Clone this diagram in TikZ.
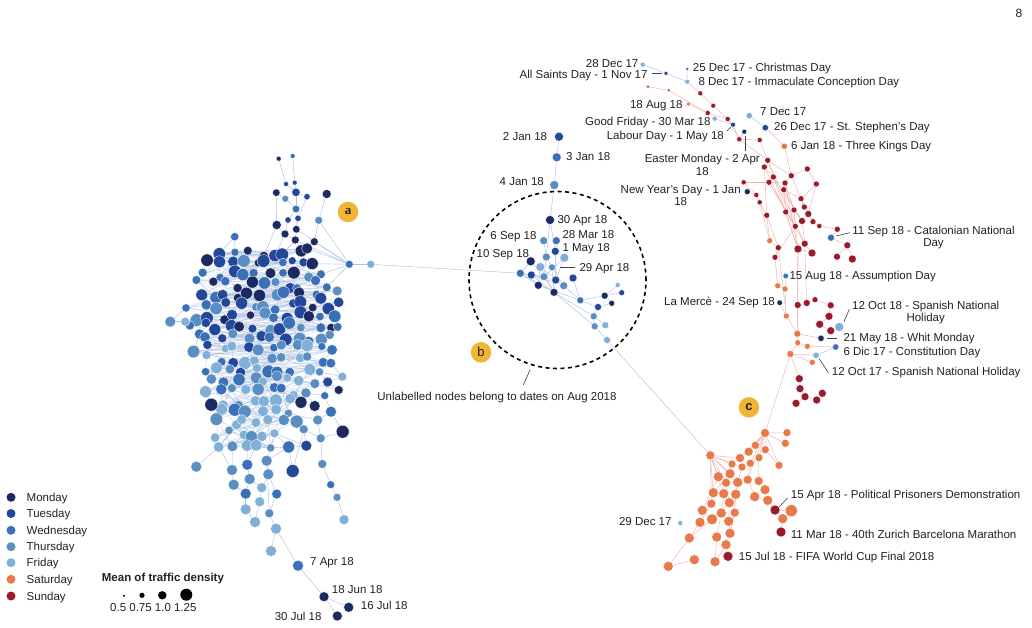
\documentclass[tikz,border=0pt]{standalone}
\usepackage{fontspec}
\setmainfont{Liberation Sans}
\newfontfamily\serifa{Liberation Serif}
\pgfdeclarelayer{bg}
\pgfdeclarelayer{paper}
\pgfsetlayers{paper,bg,main}
\definecolor{day0}{HTML}{1C2A63}
\definecolor{day1}{HTML}{23489A}
\definecolor{day2}{HTML}{3A71B6}
\definecolor{day3}{HTML}{5A8DC2}
\definecolor{day4}{HTML}{80B0D8}
\definecolor{day5}{HTML}{E7794B}
\definecolor{day6}{HTML}{9B1B2E}
\definecolor{edgeb}{HTML}{AFC0E0}
\definecolor{edger}{HTML}{EFB2AC}
\definecolor{txt}{HTML}{222222}
\definecolor{badgec}{HTML}{F0B533}
\newcount\blobcount
\newcommand\labfont{\fontsize{11.5}{12.8}\selectfont}
\begin{document}
\begin{tikzpicture}[x=1pt,y=-1pt,
  dot/.style={circle,inner sep=0pt,draw=white,line width=0.35pt},
  bedge/.style={draw=edgeb,line width=0.45pt},
  redge/.style={draw=edger,line width=0.45pt},
  medge/.style={draw=edgeb!50!edger,line width=0.45pt},
  lab/.style={font=\labfont,inner sep=0pt,text height=8.2pt,text depth=0pt,text=txt},
  labc/.style={font=\labfont,inner sep=0pt,align=center,text=txt},
  lead/.style={draw=txt!85,line width=0.6pt},
  badge/.style={circle,fill=badgec,inner sep=0pt,minimum size=20.5pt,text=txt,font=\fontsize{13}{13}\selectfont}]
\begin{pgfonlayer}{paper}
\fill[white] (0,0) rectangle (1032,628);
\end{pgfonlayer}
\useasboundingbox (0,0) rectangle (1032,628);
\pgfmathsetseed{12}
% ---------- left dense blob ----------
\global\blobcount=0
\foreach \xa/\xb [count=\k] in {216/322,204/324,200/330,200/336,194/340,190/342,192/346,192/346,190/344,196/340,202/336,206/330,208/318,210/316,220/292,222/296,214/300,216/290,212/272}{
  \pgfmathsetmacro\yy{252+10.7*(\k-1)}
  \pgfmathsetmacro\off{mod(\k,2)*6.25}
  \pgfmathtruncatemacro\nn{floor((\xb-\xa-\off)/12.5)}
  \foreach \j in {0,...,\nn}{
    \global\advance\blobcount by 1
    \expandafter\xdef\csname bn\the\blobcount\endcsname{r\k c\j}
    \pgfmathsetmacro\px{\xa+\off+12.5*\j+4.5*rand}
    \pgfmathsetmacro\py{\yy+4.2*rand}
    \pgfmathsetmacro\tt{(\k-1)/18}
    \pgfmathtruncatemacro\ci{max(0,min(4,floor(4.0*\tt*sqrt(\tt)+3.5*rnd-0.4)))}
    \pgfmathsetmacro\rr{4.0+2.5*rnd}
    \node[dot,fill=day\ci,minimum size=2*\rr] (r\k c\j) at (\px,\py) {};
  }
}
\pgfmathtruncatemacro\NB{\blobcount}
% ---------- manual left nodes ----------
\foreach \nm/\px/\py/\cc/\rr in {
 sp1/278.7/158.7/0/2.5, sp2/292.7/156/2/2.5, sp3/286/184/1/2.5, sp4/294.7/182.7/1/2.5,
 sp5/276.3/192.7/0/3.8, sp6/296/192.3/1/4.2, sp7/307/196.7/1/3.2, sp8/326.7/194/0/4.5,
 sp9/285.3/198.7/3/3.5, sp10/296/209/2/3.8, sp11/288/220/1/3.2, sp12/298/218.3/1/3.2,
 sp13/318.7/220.3/3/4, sp14/276.7/225/0/4.6, sp15/296.3/229.3/0/3.8, sp16/285/234/0/4,
 sp17/295.3/240/0/4, sp18/314.3/241.7/0/4, sp19/234.7/236.7/2/4.2,
 E1/349.3/264.3/2/4, E2/370.7/264.3/4/4, Lo1/170.3/321.7/3/5.5, Lo2/185.3/321.7/4/4.5,
 L1/342.3/376.7/4/4.5, L2/338.7/390/0/4.5, L3/327.7/382/1/5, L4/324.7/395.7/2/4,
 L5/301/402.3/0/6, L6/314.7/406/0/5.5, L7/331/411.7/2/5.5, L8/317.7/420/3/5,
 L9/303.7/429.3/3/4.5, L10/320.7/438.3/3/4.5, L11/306.3/445.7/1/5.5, L12/288.7/447/2/6,
 L13/342.7/431.7/0/6.5, L14/292.7/471/1/6.5, L15/322.3/464/3/4.5, L16/330.7/484.7/2/4,
 L17/337/497.3/3/4, L18/344/519.7/4/5, L19/196.3/466.7/3/5.5, L20/211.3/404.7/0/6.5,
 T1/232/470/3/5.5, T2/247.3/464.7/2/5.5, T3/266.7/460.7/3/5.5, T4/268.3/474.3/3/5.5,
 T5/249.7/479/3/5.5, T6/233.7/484.7/3/5.5, T7/261.7/487.7/4/5, T8/245.7/493.7/2/5.5,
 T9/276.7/494/2/5, T10/259.7/501.7/4/5, T11/245.7/509.3/4/5.5, T12/269.3/513.3/3/4.5,
 T13/255/522/4/5.5, T14/276/528.7/4/5.5, T15/271/551/4/5.5, T16/298/565.7/2/5.5,
 T17/324/596.7/0/5, T18/348.7/607.3/0/5, T19/337.3/616/0/5}
 {\node[dot,fill=day\cc,minimum size=2*\rr] (\nm) at (\px,\py) {};}
% ---------- middle cluster ----------
\foreach \nm/\px/\py/\cc/\rr in {
 jan2/559/136.7/1/4.5, jan3/556.7/157.3/2/4.5, jan4/554.3/185/3/4.5, apr30/550/220/0/4.5,
 sep6/543.7/240.7/3/4, mar28/556.3/240.7/2/4, may1/555.3/251.3/1/4, sep10/530.7/261.3/0/4.5,
 C1/564.3/257.7/4/4.5, C2/546.3/257/3/4, C3/540.3/267/4/4.5, C4/520.3/273.3/2/4,
 C5/531.3/275/1/4, C6/544/276.7/3/4, C7/555.7/280/1/4, C8/573/278/1/4, C9/538.3/285.3/0/4,
 C10/563.7/285.7/3/4, C11/554/292.3/0/4, C12/580.3/300.3/2/3.5, C13/604.7/295.7/0/3.5,
 C14/617.7/285/4/2.5, C15/621.7/292.7/1/3, C16/598/307/1/3.5, C17/611.7/303.3/0/3,
 C18/593.7/316.3/3/3.5, C19/594.7/326.3/3/3.5, C20/605.3/325.3/4/3.5, C21/607/340/4/3.5,
 apr29/552/267.3/3/3.5}
 {\node[dot,fill=day\cc,minimum size=2*\rr] (\nm) at (\px,\py) {};}
% ---------- right (holiday) cluster ----------
\foreach \nm/\px/\py/\cc/\rr in {
 R1/648/86.7/6/1.6, R2/668.7/90.3/6/1.6, R3/700.3/93.3/6/2.5, R4/713.3/105.7/6/2.5,
 R5/707.7/113/6/2.6, R6/727.7/119/6/2.6, R7/739.3/139.3/6/2.6, R8/759.7/140/6/2.6,
 R9/767.7/160.3/6/3, R10/764.3/167/6/3, R11/773.3/177/6/3, R12/791.3/175.7/6/3,
 R13/807.3/169/6/3, R14/816.3/184/6/3, R15/769/182.3/6/3, R16/785/183/6/3,
 R17/783.7/189.7/6/3, R18/743.7/182.3/6/2.6, R19/756.3/195/6/2.6, R20/759.7/202.3/6/2.6,
 R21/801/198.7/6/3, R22/804.3/207/6/3, R23/794/210/6/3, R24/785.7/212/6/3,
 R25/808.3/214/6/3.5, R26/766.7/215.3/6/3, R27/802/221/6/3.5, R28/813/221.7/6/3,
 R29/819.3/226/6/2.6, R30/795.3/226.3/6/3, R31/837.3/229.3/6/3, R32/804.7/243.7/6/3.5,
 R33/798/249/6/4, R34/812/253/6/4, R35/847.3/245.3/6/3.5, R36/837/256.7/6/3.5,
 R37/852.3/259/6/4, R38/778.3/247.7/6/3, R39/775/257.3/6/3, R40/797.7/305/6/3.5,
 R41/806.7/303/6/3.5, R42/815/299.7/6/3, R43/830.7/305.3/6/3.5, R44/829/316.3/6/4,
 R45/819.7/324.3/6/4, R46/830.7/330.7/6/4, R47/799.3/378.7/6/4, R48/800/388.7/6/4,
 R49/822.3/393.3/6/4, R50/805/396.7/6/4, R51/816.7/400/6/4, R52/796/403.3/6/4,
 O1/769.7/240.7/5/3, O2/777.7/285.7/5/3, O3/785/289/5/3, O4/786.3/316/5/3,
 O5/797.3/333.7/5/3.5, O6/797.7/342.7/5/3, O7/807.3/346.3/5/3, O8/790.3/354/5/3.5,
 O9/812.3/362.3/5/3,
 dec28/642.7/64.7/4/2.5, allsaints/666/73.3/1/2, dec25/687/69/0/1.5, dec8/687.3/81.7/4/2.5,
 aug18/688.3/104/5/2, dec7/749.3/115.7/4/3.2, dec26/765.3/127.7/1/3.2, jan6/784.3/146.3/5/3.2,
 goodfri/714.7/118.7/4/2.5, labour/733/124.7/1/2.5, easter/744.3/131.7/0/2.5,
 newyear/747.3/191.7/0/3, cat/831/237.7/2/3.5, aug15/785.7/276/2/2.8, merce/779.7/302.7/0/2.8,
 oct12b/839.3/327/4/4.5, may21/821/338.3/0/3.2, dic6/835.7/347/2/3.2, oct17/816/355.3/4/3.2}
 {\node[dot,fill=day\cc,minimum size=2*\rr] (\nm) at (\px,\py) {};}
% ---------- bottom (Saturday) cluster ----------
\foreach \nm/\px/\py/\cc/\rr in {
 P1/765/433/5/4.5, P2/787/432.7/5/4, P3/785.3/443.3/5/4, P4/755.3/445.3/5/4,
 P5/748.7/451.7/5/4.5, P6/765.3/449.7/5/4, P7/710.3/455.3/5/4.5, P8/740/458/5/4.5,
 P9/759/457.7/5/4, P10/732/464/5/4, P11/750.3/463.3/5/4, P12/742/467/5/4,
 P13/779/465.3/5/4, P14/730/473.7/5/5, P15/718.3/476.7/5/5, P16/726/482.7/5/4.5,
 P17/737.7/482.3/5/5, P18/747.7/479.7/5/4.5, P19/758.7/481/5/4.5, P20/713.3/492.7/5/5,
 P21/723.7/493.7/5/5, P22/735.7/494.3/5/5, P23/765/489.7/5/5, P24/754.7/496.7/5/5,
 P25/767.7/500.3/5/5, P26/791.3/510.7/5/6, P27/711.3/503.7/5/4.5, P28/729.3/502.7/5/5,
 P29/702.3/510.3/5/5, P30/721.3/513/5/5, P31/734.7/512.7/5/4.5, P32/782.7/518.7/5/5,
 P33/700/522.3/5/5, P34/712/519.3/5/5.5, P35/728.7/521.3/5/5, P36/730/533.3/5/5,
 P37/716.7/537/5/5, P38/689.3/538/5/5, P39/726/544.7/5/5, P40/694.3/559.7/5/5,
 P41/715/561.7/5/5, P42/668.3/566.3/5/5,
 pp/775/510/6/5, mm/781/532/6/5, fw/728/556.3/6/5, dec29/680.3/523/4/2.5}
 {\node[dot,fill=day\cc,minimum size=2*\rr] (\nm) at (\px,\py) {};}
% ---------- edges ----------
\begin{pgfonlayer}{bg}
\foreach \i in {1,...,\NB}{
  \foreach \t in {1,...,4}{
    \pgfmathtruncatemacro\jj{max(1,min(\NB,\i+round(20*rand)))}
    \ifnum\jj=\i\relax\else
      \edef\na{\csname bn\i\endcsname}\edef\nbb{\csname bn\jj\endcsname}
      \draw[bedge,opacity=0.6] (\na) -- (\nbb);
    \fi
  }
}
\foreach \ea/\eb in {sp1/sp3, sp2/sp4, sp3/sp6, sp4/sp6, sp5/sp9, sp6/sp10, sp9/sp10,
 sp7/sp12, sp6/sp7, sp8/sp13, sp10/sp15, sp10/sp11, sp11/sp16, sp12/sp15, sp5/sp14,
 sp14/sp16, sp15/sp17, sp16/sp17, sp13/sp18, sp17/E1, sp18/E1, sp15/E1, sp13/E1,
 sp19/r1c0, sp19/r1c1, sp14/r1c3, sp16/r1c4, sp17/r1c5, sp18/r1c6, sp18/r1c7,
 E1/r2c9, E1/r3c9, E1/r4c10, E1/r1c7, E1/E2, E2/C4, Lo1/Lo2, Lo2/r7c0, Lo2/r8c0, Lo1/r6c0,
 L1/r11c10, L1/r12c9, L3/r12c9, L3/r13c8, L2/r13c8, L4/r14c8, L5/r14c7, L6/r14c8,
 L5/r15c5, L9/r17c6, L8/r16c5, L11/r18c5, L12/r19c4, L12/r18c5, L20/r14c0, L20/r15c0,
 L19/r19c0, T1/r19c1, T2/r19c2, T3/r19c4, T2/r19c3, T1/r19c0,
 L1/L3, L2/L3, L3/L4, L4/L7, L5/L6, L6/L8, L7/L8, L8/L10, L9/L10, L9/L11, L10/L13,
 L11/L12, L12/T3, L13/L7, L10/L15, L15/L16, L16/L17, L17/L18, L14/L12, L14/L9,
 T1/T6, T2/T5, T3/T4, T4/T9, T5/T8, T6/T8, T7/T10, T5/T7, T8/T11, T10/T13, T9/T12,
 T12/T14, T11/T13, T14/T15, T14/T16, T16/T17, T17/T18, T17/T19, T4/T7, T3/T12,
 jan2/jan3, jan3/jan4, jan4/apr30, apr30/C2, apr30/may1, sep6/C2, mar28/C7, may1/C7,
 sep10/C4, sep10/C6, C1/C6, C1/C7, C2/C6, C3/C9, C4/C5, C4/C6, C4/C9, C4/C11, C4/C7,
 C5/C10, C6/C11, C7/C11, C3/C10, C9/C12, C10/C12, C8/C12, apr29/C11, C12/C16, C12/C13,
 C13/C14, C13/C15, C13/C17, C16/C17, C16/C18, C18/C19, C18/C20, C19/C21, C11/C18,
 C11/C19, C2/C10, C3/C11, C5/C11,
 dec28/allsaints, allsaints/dec8, dec25/dec8, dec7/dec26, goodfri/labour, oct17/dic6}
 {\draw[bedge] (\ea) -- (\eb);}
\draw[medge] (C21) -- (P7);
\foreach \ea/\eb in {R1/R2, R2/R5, R5/R6, aug18/R5, dec8/R3, R3/R4, R4/R6, R6/R7,
 R6/labour, labour/R7, easter/R7, R7/R8, R7/R9, R8/R9, dec26/jan6, jan6/R12, R9/R10,
 R10/R11, R11/R15, R9/R12, R12/R13, R13/R14, R15/R16, R16/R17, R17/R21, R14/R21,
 R18/R19, R19/R20, R20/R26, newyear/R19, R16/R23, R17/R24, R21/R22, R22/R25, R23/R27,
 R24/R30, R25/R28, R28/R29, R29/R31, R31/cat, cat/R35, R35/R36, R35/R37, R27/R32,
 R30/R33, R32/R34, R33/R34, R26/O1, O1/R38, R38/R39, R39/O2, O2/O3, O3/aug15, O3/O4,
 R33/R40, R40/R41, R41/R42, R42/R43, R43/R44, R44/R45, R45/R46, R46/oct12b, O4/O5,
 R40/O5, O5/may21, O5/O6, O6/O7, O7/dic6, O6/O8, O8/oct17, O8/O9, O8/R47, merce/O4,
 R47/R48, R48/R50, R49/R51, R50/R52, R51/R50, R9/R33, R15/R32, R11/R30, R10/R24,
 R38/O4, R33/O5, O8/P1, R23/R30, R12/R16, R18/R15,
 R9/R32, R11/R27, R15/R30, R10/R26, R17/R27, R16/R33, R12/R22, R14/R25, R21/R28,
 R26/R38, R20/O1, R30/R39, R24/R33, R32/R41,
 P7/P8, P7/P10, P7/P14, P7/P15, P7/P16, P7/P20, P7/P21, P7/P17, P7/P12, P7/P27,
 P1/P3, P1/P4, P1/P5, P1/P6, P1/P9, P1/P11, P1/P8, P1/P13, P1/P18, P1/P2,
 P2/P3, P14/P20, P20/P27, P27/P33, P29/P33, P33/P38, P38/P42, P21/P28, P28/P35,
 P35/P36, P36/P39, P39/fw, P30/P37, P40/P42, P41/P37, P22/P31, P18/P24, P19/P23,
 P23/P25, P25/pp, pp/P26, P32/mm, P24/P25, P13/P6, P9/P19, P10/P14, P16/P21, P17/P22,
 P15/P29, P21/P30, P28/P34, P34/P38, P22/P36, P31/P36, P41/P39, P12/P17, P11/P18, P16/P28}
 {\draw[redge] (\ea) -- (\eb);}
\end{pgfonlayer}
% ---------- ring and badges ----------
\node[circle,draw=black,dashed,dash pattern=on 4pt off 3.5pt,line width=1.6pt,minimum size=177pt,inner sep=0pt] (ring) at (557.5,280) {};
\node[badge] (ba) at (348,212) {\serifa\bfseries a};
\node[badge] (bb) at (481,352.3) {b};
\node[badge] (bc) at (749,407.3) {\bfseries c};
% ---------- labels ----------
\node[lab,anchor=east] (tdec28) at (638.5,63.5) {28 Dec 17};
\node[lab,anchor=east] (tallsaints) at (647.7,74.5) {All Saints Day - 1 Nov 17};
\node[lab,anchor=west] (tdec25) at (692.7,67.3) {25 Dec 17 - Christmas Day};
\node[lab,anchor=west] (tdec8) at (698.3,81.7) {8 Dec 17 - Immaculate Conception Day};
\node[lab,anchor=east] (taug18) at (682.7,104) {18 Aug 18};
\node[lab,anchor=west] (tdec7) at (760,111) {7 Dec 17};
\node[lab,anchor=west] (tdec26) at (774,126.3) {26 Dec 17 - St. Stephen's Day};
\node[lab,anchor=west] (tjan6) at (791,145.7) {6 Jan 18 - Three Kings Day};
\node[lab,anchor=east] (tgoodfri) at (710.7,121.7) {Good Friday - 30 Mar 18};
\node[lab,anchor=east] (tlabour) at (724,135) {Labour Day - 1 May 18};
\node[labc] (teaster) at (702.3,164.5) {Easter Monday - 2 Apr\\18};
\node[labc] (tnewyear) at (680.7,195.7) {New Year's Day - 1 Jan\\18};
\node[labc] (tcat) at (933.5,237.5) {11 Sep 18 - Catalonian National\\Day};
\node[lab,anchor=west] (taug15) at (789.3,275.3) {15 Aug 18 - Assumption Day};
\node[lab,anchor=east] (tmerce) at (775,301) {La Mercè - 24 Sep 18};
\node[labc] (toct12b) at (925.7,312.5) {12 Oct 18 - Spanish National\\Holiday};
\node[lab,anchor=west] (tmay21) at (843.3,337.3) {21 May 18 - Whit Monday};
\node[lab,anchor=west] (tdic6) at (843.3,351.7) {6 Dic 17 - Constitution Day};
\node[lab,anchor=west] (toct17) at (831.7,371.3) {12 Oct 17 - Spanish National Holiday};
\node[lab,anchor=west] (tpp) at (790.7,494) {15 Apr 18 - Political Prisoners Demonstration};
\node[lab,anchor=west] (tmm) at (790.7,534.7) {11 Mar 18 - 40th Zurich Barcelona Marathon};
\node[lab,anchor=west] (tfw) at (738.7,556.7) {15 Jul 18 - FIFA World Cup Final 2018};
\node[lab,anchor=east] (tdec29) at (671.7,521) {29 Dec 17};
\node[lab,anchor=east] (tjan2) at (547.3,136) {2 Jan 18};
\node[lab,anchor=west] (tjan3) at (566,156) {3 Jan 18};
\node[lab,anchor=east] (tjan4) at (544,181) {4 Jan 18};
\node[lab,anchor=west] (tapr30) at (557.3,219.3) {30 Apr 18};
\node[lab,anchor=east] (tsep6) at (536.7,235.3) {6 Sep 18};
\node[lab,anchor=west] (tmar28) at (562.3,234.7) {28 Mar 18};
\node[lab,anchor=west] (tmay1) at (562.3,247) {1 May 18};
\node[lab,anchor=east] (tsep10) at (529.3,253.3) {10 Sep 18};
\node[lab,anchor=west] (tapr29) at (579.3,267.3) {29 Apr 18};
\node[lab] (tunl) at (497,396) {Unlabelled nodes belong to dates on Aug 2018};
\node[lab,anchor=west] (tapr7) at (310,561.7) {7 Apr 18};
\node[lab,anchor=west] (tjun18) at (331.7,589.3) {18 Jun 18};
\node[lab,anchor=west] (tjul16) at (360.7,605) {16 Jul 18};
\node[lab,anchor=east] (tjul30) at (321.7,616) {30 Jul 18};
\node[font=\fontsize{12}{14}\selectfont,text=txt,inner sep=0pt] (pgnum) at (1019,13) {8};
% ---------- leader lines ----------
\foreach \nm/\ax/\ay/\bx/\by in {ls/651.5/73.3/662/73.3, lb/726.7/131/731/127.3,
 le/745/136/745/150.7, lc/836/236/850/232.7, lo/844/321.7/849.3/309.3,
 lm/827.3/338.3/836.7/338.3, lt/819/358.3/828.3/372.7, la/560/267.3/575/267.3,
 lp/779.3/506.7/787.3/498.3, lu/530/370/523.3/385}
 {\coordinate (\nm1) at (\ax,\ay); \coordinate (\nm2) at (\bx,\by); \draw[lead] (\nm1) -- (\nm2);}
% ---------- legend ----------
\foreach \i/\nm/\yy in {0/Monday/497.3, 1/Tuesday/513.5, 2/Wednesday/530.3, 3/Thursday/546.7,
 4/Friday/562.7, 5/Saturday/579.3, 6/Sunday/596}
 {\node[circle,inner sep=0pt,fill=day\i,minimum size=9pt] (lg\i) at (11,\yy) {};
  \node[lab,anchor=west] (lgt\i) at (26.5,\yy) {\nm};}
\node[lab,anchor=west,font=\labfont\bfseries] (mtd) at (101.7,577.3) {Mean of traffic density};
\node[circle,inner sep=0pt,fill=black,minimum size=2.4pt] (sz1) at (124,595.7) {};
\node[circle,inner sep=0pt,fill=black,minimum size=5.2pt] (sz2) at (142,595.3) {};
\node[circle,inner sep=0pt,fill=black,minimum size=8.4pt] (sz3) at (162.3,595.3) {};
\node[circle,inner sep=0pt,fill=black,minimum size=12pt] (sz4) at (186.3,594.7) {};
\node[lab,anchor=west] (szt) at (110,607.7) {0.5 0.75 1.0 1.25};
\end{tikzpicture}
\end{document}
